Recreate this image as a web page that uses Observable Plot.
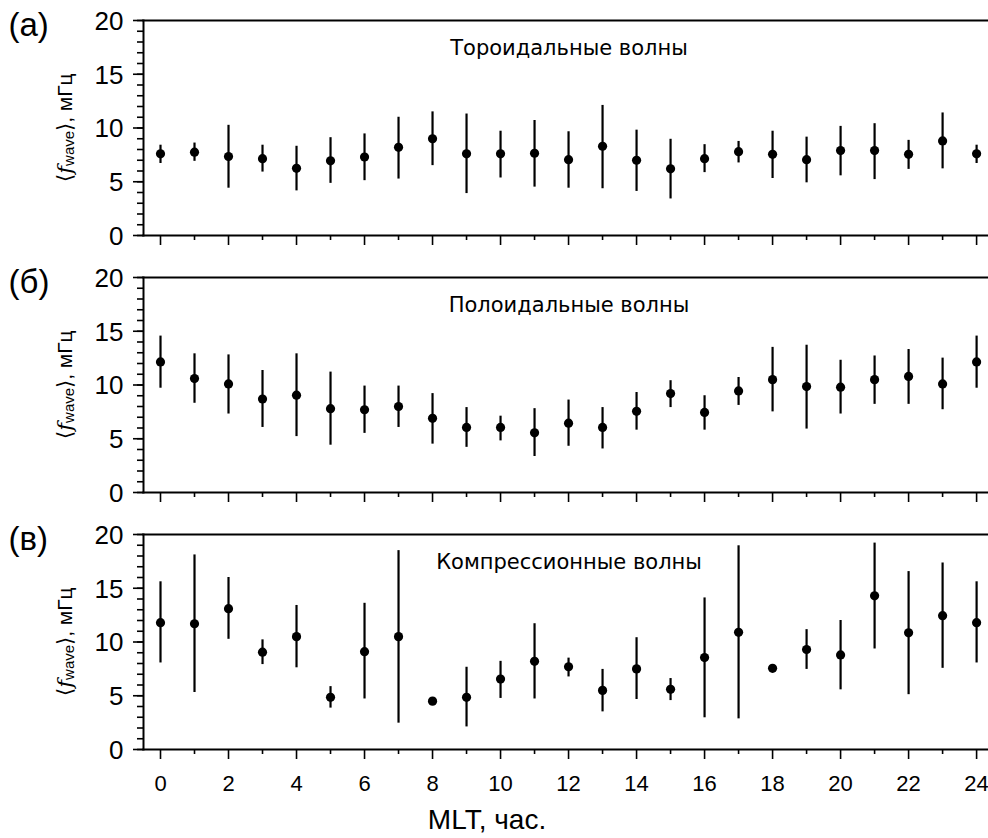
<!DOCTYPE html>
<html><head><meta charset="utf-8">
<script src="https://cdn.jsdelivr.net/npm/d3@7"></script>
<script src="https://cdn.jsdelivr.net/npm/@observablehq/plot@0.6"></script>
<style>
body{margin:0;background:#fff}
#chart{width:988px;height:838px;position:relative;background:#fff}
#chart svg{display:block}
</style>
</head><body><div id="chart"></div>
<script>
// MLT hours
const mlt = [0,1,2,3,4,5,6,7,8,9,10,11,12,13,14,15,16,17,18,19,20,21,22,23,24];

// (а) Toroidal waves
const torMean = [7.6,7.75,7.35,7.15,6.25,6.95,7.3,8.2,9.0,7.6,7.6,7.65,7.05,8.3,7.0,6.2,7.15,7.8,7.55,7.05,7.9,7.9,7.55,8.8,7.6];
const torLow  = [6.7,6.9,4.4,5.9,4.15,4.85,5.1,5.25,6.5,3.9,5.35,4.5,4.4,4.35,4.1,3.4,5.85,6.75,5.3,4.9,5.55,5.2,6.15,6.2,6.7];
const torHigh = [8.4,8.6,10.25,8.4,8.3,9.1,9.45,11.0,11.5,11.3,9.7,10.7,9.65,12.1,9.8,8.95,8.45,8.75,9.7,9.15,10.15,10.4,8.85,11.4,8.4];

// (б) Poloidal waves
const polMean = [12.15,10.6,10.1,8.7,9.05,7.8,7.7,8.0,6.9,6.05,6.05,5.55,6.45,6.05,7.55,9.2,7.45,9.45,10.5,9.85,9.8,10.5,10.8,10.1,12.15];
const polLow  = [9.7,8.3,7.3,6.05,5.2,4.4,5.5,6.05,4.5,4.2,4.8,3.35,4.3,4.05,5.8,7.9,5.8,8.1,7.5,5.9,7.3,8.2,8.2,7.7,9.7];
const polHigh = [14.55,12.9,12.8,11.35,12.9,11.2,9.9,9.9,9.2,7.9,7.1,7.8,8.6,7.9,9.3,10.4,9.0,10.7,13.5,13.7,12.3,12.7,13.3,12.5,14.55];

// (в) Compressional waves
const comMean = [11.8,11.7,13.1,9.05,10.5,4.85,9.1,10.5,4.5,4.85,6.55,8.2,7.7,5.5,7.5,5.6,8.55,10.9,7.55,9.3,8.8,14.3,10.85,12.45,11.8];
const comLow  = [8.05,5.3,10.25,7.9,7.6,3.85,4.7,2.45,null,2.1,4.75,4.7,6.75,3.5,4.65,4.55,2.95,2.85,null,7.45,5.55,9.35,5.1,7.55,8.05];
const comHigh = [15.6,18.1,16.0,10.2,13.4,5.85,13.6,18.5,null,7.65,8.2,11.7,8.5,7.45,10.4,6.6,14.1,18.95,null,11.15,12.0,19.2,16.55,17.35,15.6];

const panelLabels = ["(а)", "(б)", "(в)"];
const panelTitles = ["Тороидальные волны", "Полоидальные волны", "Компрессионные волны"];
const yMajorTicks = [0,5,10,15,20];
const yMinorTicks = [0,1,2,3,4,5,6,7,8,9,10,11,12,13,14,15,16,17,18,19,20];
const xMajorTicks = [0,2,4,6,8,10,12,14,16,18,20,22,24];
const xMinorTicks = [1,3,5,7,9,11,13,15,17,19,21,23];
const xLabel = ["MLT, час."];
const yLabelParts = ["⟨", "f", "wave", "⟩", ", мГц"];

const means = [torMean, polMean, comMean];
const lows = [torLow, polLow, comLow];
const highs = [torHigh, polHigh, comHigh];

const chart = document.getElementById("chart");
const MT = 20, H = 215, ML = 143;
const SANS = "Liberation Sans, Arial, sans-serif";

function panel(i, last) {
  const data = mlt.map((h, j) => ({h, m: means[i][j], lo: lows[i][j], hi: highs[i][j]}));
  const height = last ? 324 : 257;
  const mb = height - MT - H;
  const blank = () => "";
  const svg = Plot.plot({
    width: 988, height,
    marginLeft: ML, marginRight: 0, marginTop: MT, marginBottom: mb,
    style: {fontFamily: SANS, fontSize: "24px", color: "#000", background: "#fff", overflow: "visible"},
    x: {domain: [-0.5, 24.35]},
    y: {domain: [0, 20]},
    marks: [
      Plot.axisY(yMinorTicks, {tickSize: 6, tickFormat: blank, label: null, strokeWidth: 1.6}),
      Plot.axisY(yMajorTicks, {tickSize: 10, tickFormat: blank, label: null, strokeWidth: 1.6}),
      Plot.axisX(xMinorTicks, {tickSize: 5, tickFormat: blank, label: null, strokeWidth: 1.6}),
      Plot.axisX(xMajorTicks, {tickSize: 10, tickFormat: blank, label: null, strokeWidth: 1.6}),
      // tick labels as text marks positioned through the scales
      Plot.text(yMajorTicks, {y: d => d, text: d => String(d), frameAnchor: "left", textAnchor: "end", lineAnchor: "middle", dx: -20, dy: 1, fontSize: 26, fill: "#000"}),
      ...(last ? [Plot.text(xMajorTicks, {x: d => d, text: d => String(d), frameAnchor: "bottom", lineAnchor: "middle", dy: 34, fontSize: 22, fill: "#000"})] : []),
      Plot.frame({anchor: "left", strokeWidth: 2}),
      Plot.frame({anchor: "bottom", strokeWidth: 2}),
      Plot.frame({anchor: "top", strokeWidth: 2}),
      Plot.ruleX(data.filter(d => d.lo != null), {x: "h", y1: "lo", y2: "hi", strokeWidth: 2.2, stroke: "#000"}),
      Plot.dot(data, {x: "h", y: "m", r: 4.6, fill: "#000"}),
      Plot.text([panelTitles[i]], {frameAnchor: "top", lineAnchor: "middle", dx: 3, dy: 28, fontFamily: "DejaVu Sans, sans-serif", fontSize: 21, fill: "#000"}),
      Plot.text([panelLabels[i]], {frameAnchor: "top-left", lineAnchor: "middle", dx: -135, dy: 5, textAnchor: "start", fontSize: 33, fill: "#000"}),
      ...(last ? [Plot.text(xLabel, {frameAnchor: "bottom", lineAnchor: "middle", dx: -79, dy: 71, fontSize: 28, fill: "#000"})] : [])
    ]
  });
  const s = d3.select(svg);
  const t = s.append("text")
    .attr("transform", `translate(66, ${MT + H / 2}) rotate(-90)`)
    .attr("text-anchor", "middle")
    .attr("dominant-baseline", "middle")
    .attr("fill", "#000")
    .style("font-family", SANS)
    .style("font-size", "21px");
  t.append("tspan").style("font-family", "DejaVu Sans, sans-serif").style("font-weight", "200").text(yLabelParts[0]);
  t.append("tspan").style("font-style", "italic").style("font-family", "DejaVu Serif, serif").text(yLabelParts[1]);
  t.append("tspan").attr("dy", 4).style("font-size", "15px").text(yLabelParts[2]);
  t.append("tspan").attr("dy", -4).style("font-family", "DejaVu Sans, sans-serif").style("font-weight", "200").text(yLabelParts[3]);
  t.append("tspan").text(yLabelParts[4]);
  return svg;
}

chart.append(panel(0, false));
chart.append(panel(1, false));
chart.append(panel(2, true));
</script>
</body></html>
